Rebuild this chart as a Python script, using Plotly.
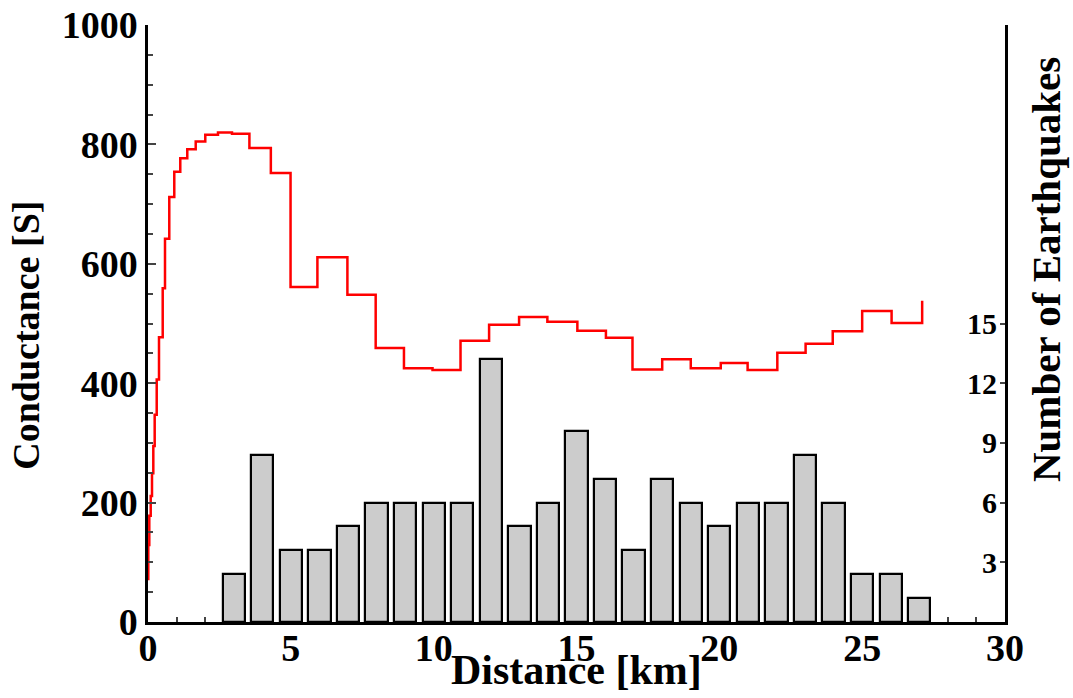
import plotly.graph_objects as go

# Conductance profile (step model): cell start distance [km] and conductance [S]
step_start_km = [0.00, 0.01, 0.045, 0.095, 0.14, 0.186, 0.234, 0.305, 0.385, 0.515,
                 0.595, 0.745, 0.92, 1.13, 1.375, 1.67, 2.005, 2.45, 2.94, 3.55,
                 4.30, 4.99, 5.93, 6.98, 7.97, 8.96, 9.96, 10.94, 11.94, 12.99,
                 13.98, 15.03, 16.03, 16.96, 18.0, 19.0, 20.05, 20.99, 22.03, 23.02,
                 23.97, 25.0, 26.03, 27.1]
conductance_s = [72, 129, 178, 211, 249, 295, 347, 406, 477, 559,
                 642, 712, 754, 777, 792, 805, 816, 820, 818, 794,
                 752, 561, 611, 548, 459, 425, 422, 471, 498, 511,
                 503, 488, 476, 423, 440, 425, 434, 422, 451, 466,
                 487, 521, 501, 538]

# Earthquake histogram: bin centre distance [km] and height on the right axis
quake_bin_km = list(range(3, 28))
quake_height = [2.4, 8.4, 3.6, 3.6, 4.8, 6, 6, 6, 6, 13.2, 4.8, 6, 9.6, 7.2, 3.6,
                7.2, 6, 4.8, 6, 6, 8.4, 6, 2.4, 2.4, 1.2]

x_ticks = [0, 5, 10, 15, 20, 25, 30]
left_ticks = [0, 200, 400, 600, 800, 1000]
right_ticks = [3, 6, 9, 12, 15]

FONT = "Liberation Serif"

fig = go.Figure()

fig.add_trace(go.Bar(
    x=quake_bin_km, y=quake_height, yaxis="y",
    width=0.78,
    marker=dict(color="#cccccc", line=dict(color="black", width=2.2)),
    showlegend=False,
))

fig.add_trace(go.Scatter(
    x=step_start_km, y=conductance_s, yaxis="y2",
    mode="lines", line=dict(color="#ff0000", width=2.5, shape="hv"),
    showlegend=False,
))

# Right-axis tick labels sit just inside the axis line
right_labels = [
    dict(text=str(v), xref="paper", yref="y", x=0.9935, y=v,
         xanchor="right", yanchor="middle", showarrow=False,
         font=dict(family=FONT, size=30, weight="bold", color="black"))
    for v in right_ticks
]

fig.update_layout(
    width=1073, height=698,
    margin=dict(l=148, r=68, t=25, b=76, autoexpand=False),
    paper_bgcolor="white", plot_bgcolor="white",
    font=dict(family=FONT, color="black", weight="bold"),
    xaxis=dict(
        range=[0, 30], tickvals=x_ticks, ticks="inside", ticklen=8, tickwidth=2,
        showline=True, linecolor="black", linewidth=3, showgrid=False, zeroline=False,
        tickfont=dict(family=FONT, size=38, weight="bold", color="black"),
        ticklabelstandoff=-10, automargin=False,
        minor=dict(dtick=1, ticks="inside", ticklen=5, tickwidth=2, showgrid=False),
        layer="below traces",
    ),
    # Earthquake count axis on the right
    yaxis=dict(
        side="right", range=[0, 30], tickvals=right_ticks, ticks="inside",
        ticklen=5, tickwidth=2, showticklabels=False, automargin=False,
        showline=True, linecolor="black", linewidth=2.5, showgrid=False, zeroline=False,
        layer="below traces",
    ),
    # Conductance axis on the left
    yaxis2=dict(
        side="left", overlaying="y", range=[0, 1000], tickvals=left_ticks,
        ticks="inside", ticklen=8, tickwidth=2, automargin=False,
        showline=True, linecolor="black", linewidth=2.5, showgrid=False, zeroline=False,
        tickfont=dict(family=FONT, size=38, weight="bold", color="black"),
        minor=dict(dtick=50, ticks="inside", ticklen=5, tickwidth=2, showgrid=False),
    ),
    bargap=0,
    annotations=right_labels + [
        dict(text="Conductance [S]", xref="paper", yref="paper",
             x=-0.142, y=0.48, xanchor="center", yanchor="middle", textangle=-90,
             showarrow=False, font=dict(family=FONT, size=38, weight="bold")),
        dict(text="Number of Earthquakes", xref="paper", yref="paper",
             x=1.047, y=0.59, xanchor="center", yanchor="middle", textangle=-90,
             showarrow=False, font=dict(family=FONT, size=41, weight="bold")),
        dict(text="Distance [km]", xref="paper", yref="paper",
             x=0.5, y=-0.08, xanchor="center", yanchor="middle",
             showarrow=False, font=dict(family=FONT, size=42, weight="bold")),
    ],
)

fig.write_html("out.html")
